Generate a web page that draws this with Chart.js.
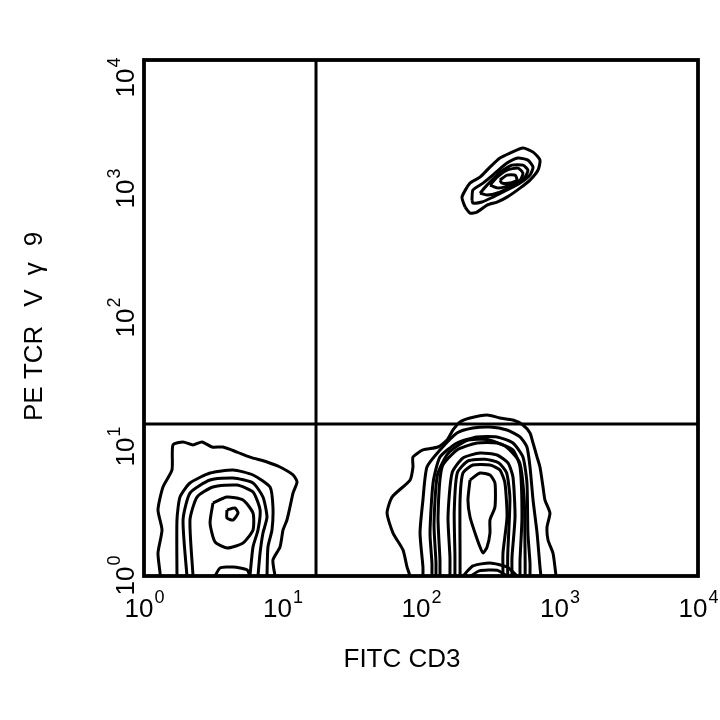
<!DOCTYPE html>
<html>
<head>
<meta charset="utf-8">
<script src="https://cdn.jsdelivr.net/npm/chart.js@4/dist/chart.umd.min.js"></script>
<style>
  html, body { margin: 0; padding: 0; background: #fff; }
  canvas { display: block; }
</style>
</head>
<body>
<canvas id="plot" width="720" height="720"></canvas>
<script>
// axis values are in decades (log10 of fluorescence)
const tickValues = [0, 1, 2, 3, 4];
const tickExps = ['0', '1', '2', '3', '4'];
const xTitle = 'FITC CD3';
const yTitleParts = ['PE TCR', 'V', '\u03b3', '9'];

// quadrant gate
const gateX = 1.242;
const gateY = 1.178;

// lower-left population (CD3- / Vg9-)
const llOuter = [[0.116,0],[0.116,0.023],[0.101,0.178],[0.130,0.357],[0.101,0.512],[0.137,0.690],[0.202,0.822],[0.209,1.016],[0.282,1.039],[0.354,1.016],[0.419,1.039],[0.491,1.000],[0.570,1.000],[0.671,0.961],[0.765,0.922],[0.888,0.884],[0.982,0.845],[1.076,0.783],[1.105,0.729],[1.076,0.643],[1.054,0.535],[1.032,0.434],[1.004,0.357],[0.982,0.225],[0.931,0.124],[0.946,0]];
const llRing2 = [[0.238,0],[0.238,0.434],[0.260,0.612],[0.332,0.721],[0.477,0.798],[0.643,0.822],[0.787,0.783],[0.910,0.690],[0.931,0.535],[0.924,0.357],[0.895,0.225],[0.888,0]];
const llRing3 = [[0.310,0],[0.282,0.434],[0.332,0.643],[0.477,0.744],[0.643,0.760],[0.787,0.721],[0.859,0.612],[0.888,0.457],[0.859,0.333],[0.838,0.178],[0.823,0]];
const llRing4 = [[0.354,0],[0.332,0.434],[0.383,0.612],[0.498,0.690],[0.671,0.705],[0.787,0.651],[0.838,0.512],[0.823,0.357],[0.787,0.225],[0.765,0]];
const llRing5 = [[0.498,0.566],[0.599,0.612],[0.715,0.589],[0.787,0.488],[0.787,0.357],[0.715,0.256],[0.599,0.217],[0.513,0.264],[0.477,0.411],[0.498,0.566]];
const llPeak = [[0.599,0.512],[0.657,0.527],[0.679,0.488],[0.643,0.434],[0.599,0.450],[0.599,0.512]];
const llBump = [[0.513,0],[0.549,0.062],[0.643,0.070],[0.744,0.047],[0.765,0]];

// lower-right population (CD3+ / Vg9-)
const lrOuter = [[1.921,0],[1.899,0.070],[1.870,0.202],[1.798,0.333],[1.755,0.488],[1.791,0.612],[1.921,0.744],[1.942,0.845],[1.942,0.922],[2.014,0.977],[2.123,1.000],[2.188,1.054],[2.231,1.132],[2.282,1.194],[2.354,1.225],[2.477,1.248],[2.570,1.225],[2.664,1.209],[2.736,1.171],[2.787,1.109],[2.809,1.031],[2.838,0.922],[2.859,0.845],[2.881,0.690],[2.895,0.589],[2.931,0.488],[2.910,0.380],[2.917,0.279],[2.953,0.178],[2.967,0.070],[2.975,0]];
const lrArch2 = [[2.014,0],[2.014,0.070],[1.993,0.333],[2.014,0.589],[2.043,0.845],[2.137,0.977],[2.260,1.109],[2.375,1.147],[2.498,1.155],[2.621,1.132],[2.715,1.078],[2.765,1.000],[2.787,0.845],[2.809,0.589],[2.838,0.333],[2.859,0.070],[2.866,0]];
const lrArch3 = [[2.079,0],[2.079,0.101],[2.065,0.333],[2.087,0.721],[2.137,0.922],[2.260,1.031],[2.404,1.078],[2.549,1.078],[2.664,1.031],[2.736,0.922],[2.765,0.721],[2.772,0.333],[2.787,0.101],[2.787,0]];
const lrArch3b = [[2.108,0],[2.108,0.110],[2.094,0.400],[2.118,0.780],[2.195,0.950],[2.330,1.050],[2.477,1.058],[2.610,1.005],[2.712,0.880],[2.745,0.600],[2.750,0.300],[2.752,0.110],[2.752,0]];
const lrArch4 = [[2.137,0],[2.137,0.124],[2.123,0.457],[2.152,0.845],[2.260,0.977],[2.404,1.031],[2.549,1.031],[2.664,0.977],[2.715,0.845],[2.729,0.457],[2.715,0.124],[2.715,0]];
const lrArch5 = [[2.209,0],[2.209,0.147],[2.195,0.457],[2.224,0.798],[2.303,0.915],[2.426,0.953],[2.549,0.938],[2.628,0.876],[2.664,0.767],[2.679,0.457],[2.657,0.147],[2.657,0]];
const lrArch5b = [[2.245,0],[2.245,0.160],[2.240,0.500],[2.262,0.800],[2.340,0.892],[2.462,0.905],[2.560,0.878],[2.618,0.800],[2.642,0.600],[2.626,0.160],[2.626,0]];
const lrArch6 = [[2.282,0],[2.282,0.178],[2.282,0.589],[2.303,0.798],[2.375,0.860],[2.498,0.860],[2.570,0.822],[2.606,0.721],[2.621,0.457],[2.592,0.178],[2.592,0]];
const lrHole = [[2.354,0.744],[2.426,0.798],[2.498,0.783],[2.534,0.721],[2.534,0.535],[2.498,0.434],[2.498,0.333],[2.477,0.225],[2.448,0.178],[2.426,0.225],[2.390,0.333],[2.354,0.457],[2.339,0.589],[2.354,0.744]];
const lrBump = [[2.303,0],[2.375,0.078],[2.498,0.101],[2.621,0.070],[2.693,0]];
const lrBump2 = [[2.360,0],[2.420,0.040],[2.550,0.045],[2.620,0]];

// upper-right population (CD3+ / Vg9+)
const urOuter = [[2.318,2.860],[2.296,2.937],[2.354,3.046],[2.426,3.092],[2.498,3.170],[2.570,3.240],[2.643,3.278],[2.736,3.317],[2.809,3.286],[2.859,3.224],[2.845,3.147],[2.787,3.069],[2.715,3.007],[2.621,2.937],[2.549,2.899],[2.477,2.875],[2.404,2.821],[2.354,2.813],[2.318,2.860]];
const urRing2 = [[2.368,2.914],[2.375,2.992],[2.448,3.046],[2.534,3.123],[2.621,3.201],[2.700,3.240],[2.772,3.224],[2.809,3.170],[2.787,3.108],[2.715,3.046],[2.621,2.992],[2.520,2.937],[2.440,2.899],[2.375,2.891],[2.368,2.914]];
const urRing3 = [[2.426,2.968],[2.477,3.030],[2.570,3.131],[2.657,3.185],[2.736,3.185],[2.772,3.147],[2.751,3.092],[2.664,3.030],[2.570,2.976],[2.477,2.953],[2.426,2.968]];
const urRing4 = [[2.498,3.030],[2.549,3.092],[2.621,3.147],[2.700,3.162],[2.736,3.123],[2.715,3.069],[2.643,3.030],[2.556,3.007],[2.498,3.030]];
const urPeak = [[2.570,3.069],[2.621,3.108],[2.679,3.108],[2.693,3.069],[2.643,3.046],[2.585,3.046],[2.570,3.069]];

const contours = [
    llOuter, llRing2, llRing3, llRing4, llRing5, llPeak, llBump,
    lrOuter, lrArch2, lrArch3, lrArch3b, lrArch4, lrArch5, lrArch5b, lrArch6, lrHole, lrBump, lrBump2,
    urOuter, urRing2, urRing3, urRing4, urPeak
];

const toPoints = arr => arr.map(p => ({x: p[0], y: p[1]}));

const datasets = contours.map(c => ({
    data: toPoints(c),
    showLine: true,
    borderColor: '#000',
    borderWidth: 3,
    pointRadius: 0,
    tension: 0.2,
    fill: false
}));

// gate lines
datasets.push({
    data: [{x: gateX, y: 0}, {x: gateX, y: 4}],
    showLine: true, borderColor: '#000', borderWidth: 3, pointRadius: 0
});
datasets.push({
    data: [{x: 0, y: gateY}, {x: 4, y: gateY}],
    showLine: true, borderColor: '#000', borderWidth: 3, pointRadius: 0
});

const FONT = '"Liberation Sans", Arial, sans-serif';

// frame, decade labels and axis titles
const framePlugin = {
    id: 'frame',
    afterDatasetsDraw(chart) {
        const {ctx, chartArea: a, scales: {x, y}} = chart;
        ctx.save();
        ctx.strokeStyle = '#000';
        ctx.lineWidth = 3.8;
        ctx.strokeRect(a.left, a.top, a.right - a.left, a.bottom - a.top);

        ctx.fillStyle = '#000';
        ctx.textAlign = 'left';
        ctx.textBaseline = 'alphabetic';
        const big = '26px ' + FONT;
        const small = '18px ' + FONT;

        tickValues.forEach((v, i) => {
            ctx.font = big;
            const w1 = ctx.measureText('10').width;
            ctx.font = small;
            const w2 = ctx.measureText(tickExps[i]).width;
            const left = x.getPixelForValue(v) - (w1 + w2) / 2;
            ctx.font = big;
            ctx.fillText('10', left, 617);
            ctx.font = small;
            ctx.fillText(tickExps[i], left + w1 + 1, 603);
        });

        tickValues.forEach((v, i) => {
            ctx.font = big;
            const w1 = ctx.measureText('10').width;
            ctx.font = small;
            const w2 = ctx.measureText(tickExps[i]).width;
            const py = y.getPixelForValue(v) + (i === tickValues.length - 1 ? 18 : 0);
            ctx.save();
            ctx.translate(134, py);
            ctx.rotate(-Math.PI / 2);
            const left = -(w1 + w2) / 2;
            ctx.font = big;
            ctx.fillText('10', left, 0);
            ctx.font = small;
            ctx.fillText(tickExps[i], left + w1 + 1, -14);
            ctx.restore();
        });

        ctx.font = '26px ' + FONT;
        ctx.textAlign = 'center';
        ctx.fillText(xTitle, 402, 667);

        // y title, spread out like the original
        ctx.save();
        ctx.translate(42, 421);
        ctx.rotate(-Math.PI / 2);
        ctx.textAlign = 'left';
        const gaps = [0, 19, 14, 16];
        let pos = 0;
        yTitleParts.forEach((t, i) => {
            pos += gaps[i];
            ctx.fillText(t, pos, 0);
            pos += ctx.measureText(t).width;
        });
        ctx.restore();
        ctx.restore();
    }
};

new Chart(document.getElementById('plot'), {
    type: 'scatter',
    data: {datasets},
    options: {
        responsive: false,
        animation: false,
        layout: {padding: {left: 144, right: 22, top: 60, bottom: 144}},
        plugins: {legend: {display: false}, tooltip: {enabled: false}},
        scales: {
            x: {type: 'linear', min: 0, max: 4, display: false},
            y: {type: 'linear', min: 0, max: 4, display: false}
        }
    },
    plugins: [framePlugin]
});
</script>
</body>
</html>
